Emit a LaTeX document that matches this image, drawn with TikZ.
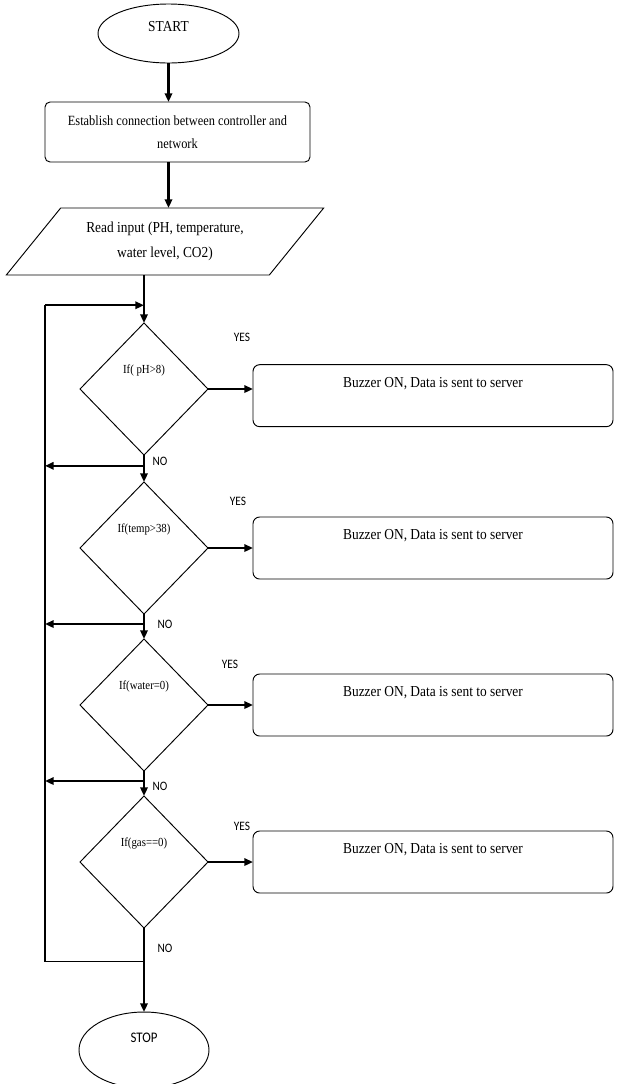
\documentclass[tikz,border=0pt]{standalone}
\usepackage{fontspec}
\setmainfont{Liberation Serif}[FakeStretch=0.88]
\setsansfont{Carlito}[FakeStretch=0.88]
\usetikzlibrary{arrows.meta, positioning, shapes.geometric, calc}
\tikzset{
  base/.style     = {draw, line width=0.8pt, align=center, inner sep=1.5pt,
                     outer sep=0pt},
  startbox/.style = {base, ellipse, minimum width=42.3mm, minimum height=17.7mm,
                     font=\fontsize{13}{15}\selectfont,
                     text height=3mm, text depth=4mm},
  stopbox/.style  = {base, ellipse, minimum width=39mm, minimum height=22.8mm,
                     font=\sffamily\fontsize{12.5}{15}\selectfont,
                     text height=3mm, text depth=7.3mm},
  proc/.style     = {base, rounded corners=1.5mm, minimum width=79.5mm,
                     minimum height=18mm, font=\fontsize{12}{20}\selectfont},
  io/.style       = {base, trapezium, trapezium left angle=45,
                     trapezium right angle=135, trapezium stretches=true,
                     minimum width=95.4mm, minimum height=20.1mm,
                     font=\fontsize{13}{21}\selectfont},
  decision/.style = {base, diamond, minimum width=38.4mm, minimum height=39.6mm,
                     font=\fontsize{10.5}{12}\selectfont,
                     text height=3mm, text depth=12.6mm},
  action/.style   = {base, rounded corners=2mm, minimum width=108mm,
                     minimum height=18.6mm, font=\fontsize{13}{15}\selectfont,
                     text height=3mm, text depth=8mm},
  lbl/.style      = {font=\sffamily\fontsize{11}{13}\selectfont, inner sep=0pt},
  arr/.style      = {-{Triangle[length=2.6mm, width=2.2mm]}, line width=1.8pt},
  loopline/.style = {line width=1pt},
}

\begin{document}
\begin{tikzpicture}

\useasboundingbox (0,0) rectangle (185.4mm,-325.2mm);

%% -- start, connect, read ----------------------------------------------------
\node[startbox] (start) at (50.55mm,-10.05mm) {START};
\node[proc, below=11.7mm of start, xshift=2.7mm] (conn)
  {Establish connection between controller and\\network};
\node[io, below=13.8mm of conn, xshift=-3.75mm] (read)
  {Read input (PH, temperature,\\water level, CO2)};

%% -- checks ------------------------------------------------------------------
\node[decision, below=14.4mm of read, xshift=-6.3mm] (d1) {If( pH>8)};
\node[decision, below=8.1mm of d1] (d2) {If(temp>38)};
\node[decision, below=7.5mm of d2] (d3) {If(water=0)};
\node[decision, below=7.5mm of d3] (d4) {If(gas==0)};

%% -- alarms ------------------------------------------------------------------
\node[action, right=13.5mm of d1, yshift=-2mm] (b1)
  {Buzzer ON, Data is sent to server};
\node[action, right=13.5mm of d2] (b2)
  {Buzzer ON, Data is sent to server};
\node[action, right=13.5mm of d3] (b3)
  {Buzzer ON, Data is sent to server};
\node[action, right=13.5mm of d4] (b4)
  {Buzzer ON, Data is sent to server};

%% -- stop --------------------------------------------------------------------
\node[stopbox, below=25.2mm of d4] (stop) {STOP};

%% -- YES / NO ----------------------------------------------------------------
\node[lbl] (yes1) at ([xshift=10.2mm, yshift=15.6mm]d1.east) {YES};
\node[lbl] (yes2) at ([xshift=9mm,    yshift=14.1mm]d2.east) {YES};
\node[lbl] (yes3) at ([xshift=6.6mm,  yshift=12.3mm]d3.east) {YES};
\node[lbl] (yes4) at ([xshift=10.2mm, yshift=10.8mm]d4.east) {YES};
\node[lbl] (no1) at ([xshift=4.8mm, yshift=-1.8mm]d1.south) {NO};
\node[lbl] (no2) at ([xshift=6.3mm, yshift=-3mm]d2.south)   {NO};
\node[lbl] (no3) at ([xshift=4.8mm, yshift=-4.5mm]d3.south) {NO};
\node[lbl] (no4) at ([xshift=6.3mm, yshift=-6mm]d4.south)   {NO};

%% -- junctions on the main line ----------------------------------------------
\coordinate (jTop) at ($(read.south -| d1.north)!0.63!(d1.north)$);
\coordinate (lTop) at ([xshift=-29.7mm]jTop);
\coordinate (j1) at ($(d1.south)!0.4!(d2.north)$);
\coordinate (j2) at ($(d2.south)!0.4!(d3.north)$);
\coordinate (j3) at ($(d3.south)!0.4!(d4.north)$);
\coordinate (jBot) at ($(d4.south)!0.4!(stop.north)$);

%% -- arrows ------------------------------------------------------------------
\draw[arr] (start.south) -- (start.south |- conn.north);
\draw[arr] (conn.south -| start.south) -- (read.north -| start.south);
\draw[arr] (read.south -| d1.north) -- (d1.north);
\draw[arr] (d1.south) -- (d2.north);
\draw[arr] (d2.south) -- (d3.north);
\draw[arr] (d3.south) -- (d4.north);
\draw[arr] (d4.south) -- (stop.north);
\foreach \i in {1,...,4}
  \draw[arr] (d\i.east) -- (d\i.east -| b\i.west);
\foreach \j in {1,2,3}
  \draw[arr] (j\j) -- (j\j -| lTop);

% loop back
\draw[loopline] (jBot) -- (jBot -| lTop) -- (lTop);
\draw[arr] (lTop) -- (jTop);

\end{tikzpicture}
\end{document}
